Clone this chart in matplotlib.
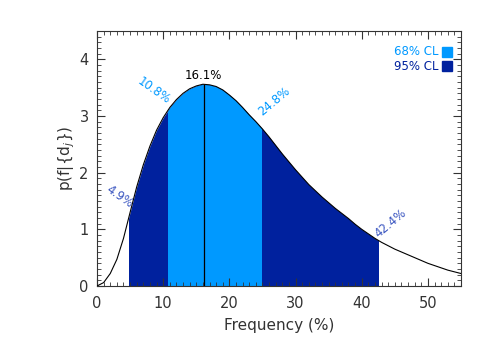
import matplotlib
matplotlib.use('Agg')
import matplotlib.pyplot as plt
from matplotlib.patches import Rectangle

# posterior, frequency in %
freq = list(range(0, 56))
prob = [0.00, 0.06, 0.22, 0.47, 0.84, 1.30, 1.75, 2.14, 2.47, 2.75,
        2.97, 3.15, 3.29, 3.40, 3.48, 3.53, 3.56, 3.55, 3.52, 3.46,
        3.37, 3.27, 3.15, 3.02, 2.90, 2.77, 2.63, 2.48, 2.33, 2.19,
        2.05, 1.92, 1.79, 1.68, 1.57, 1.47, 1.37, 1.28, 1.19, 1.09,
        1.00, 0.92, 0.84, 0.77, 0.71, 0.65, 0.60, 0.55, 0.50, 0.45,
        0.40, 0.36, 0.32, 0.28, 0.25, 0.22]

mode = 16.1
mode_val = 3.56
cl68 = (10.8, 24.8)
cl95 = (4.9, 42.4)
xticks = [0, 10, 20, 30, 40, 50]
yticks = [0, 1, 2, 3, 4]

light = '#0099ff'
dark = '#00219e'
mid = '#3a55c0'
txt = '#333333'

plt.rcParams['font.family'] = 'DejaVu Sans'
fig = plt.figure(figsize=(4.91, 3.5), dpi=100)
ax = fig.add_axes([0.1976, 0.1829, 0.7413, 0.7286])

# shaded credible intervals, clipped to the interval limits
for (lo, hi), col in [(cl95, dark), (cl68, light)]:
    poly = ax.fill_between(freq, 0, prob, color=col, linewidth=0, zorder=1)
    clip = Rectangle((lo, -1), hi - lo, 10, transform=ax.transData)
    poly.set_clip_path(clip)

ax.plot(freq, prob, color='black', linewidth=0.8, zorder=3)
ax.vlines(mode, 0, mode_val, color='black', linewidth=0.9, zorder=3)

# interval labels
ax.text(mode, mode_val + 0.04, '%.1f%%' % mode, ha='center', va='bottom',
        fontsize=8.5, color='black')
ax.text(8.6, 3.44, '%.1f%%' % cl68[0], ha='center', va='center', rotation=-35,
        fontsize=8.5, color=light)
ax.text(3.4, 1.58, '%.1f%%' % cl95[0], ha='center', va='center', rotation=-35,
        fontsize=8.5, color=mid)
ax.text(26.8, 3.26, '%.1f%%' % cl68[1], ha='center', va='center', rotation=40,
        fontsize=8.5, color=light)
ax.text(44.4, 1.10, '%.1f%%' % cl95[1], ha='center', va='center', rotation=40,
        fontsize=8.5, color=mid)

# legend
for yy, lab, col in [(0.918, '68% CL', light), (0.862, '95% CL', dark)]:
    ax.text(0.938, yy, lab, transform=ax.transAxes, ha='right', va='center',
            fontsize=8.5, color=col)
    ax.plot([0.962], [yy], marker='s', markersize=7, color=col,
            transform=ax.transAxes, clip_on=False)

ax.set_xlim(0, 55)
ax.set_ylim(0, 4.5)
ax.set_xticks(xticks)
ax.set_yticks(yticks)
ax.set_xticks(range(0, 56), minor=True)
ax.set_yticks([i / 10 for i in range(0, 46)], minor=True)
ax.tick_params(which='both', direction='in', top=True, right=True,
               colors=txt, labelsize=10.5)
ax.tick_params(which='major', length=6, width=0.8)
ax.tick_params(which='minor', length=3, width=0.6)
ax.tick_params(axis='x', pad=7)
ax.tick_params(axis='y', pad=6)
for s in ax.spines.values():
    s.set_linewidth(0.8)
    s.set_color(txt)

ax.set_xlabel('Frequency (%)', fontsize=11, color=txt, labelpad=5)
ax.set_ylabel(r'p(f|{d$_j$})', fontsize=11, color=txt, labelpad=2)

plt.savefig('out.png', dpi=100)
